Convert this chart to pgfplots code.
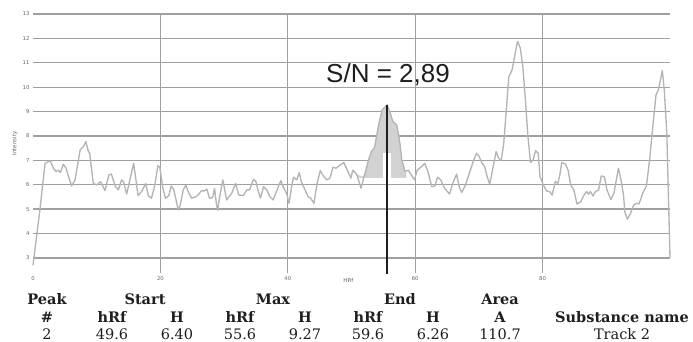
\documentclass[border=0pt]{standalone}
\usepackage{pgfplots}
\pgfplotsset{compat=1.18}
\usepackage{fontspec}
\setmainfont{DejaVu Serif}
\newfontfamily\ticksans{DejaVu Sans}
\newfontfamily\arial{Liberation Sans}
\definecolor{gridc}{RGB}{160,160,160}
\definecolor{curvec}{RGB}{180,180,180}
\definecolor{shadec}{RGB}{210,210,210}
\definecolor{tickc}{RGB}{100,100,100}
\definecolor{darkt}{RGB}{30,30,30}
\begin{document}
\begin{tikzpicture}
\begin{axis}[
  at={(33pt,-272.6pt)}, anchor=south west,
  scale only axis, width=637pt, height=258.6pt,
  xmin=0, xmax=100, ymin=2.4, ymax=13,
  axis line style={draw=none},
  xtick={20,40,60,80}, extra x ticks={0}, extra x tick style={grid=none},
  ytick={3,4,...,13},
  xmajorgrids, ymajorgrids,
  major grid style={gridc, line width=1.35pt},
  major tick length=0pt,
  tick label style={font=\ticksans\fontsize{5.3}{6}\selectfont, text=tickc},
  /pgf/number format/assume math mode=true,
  xlabel={HRf}, ylabel={Intensity},
  xlabel style={at={(axis description cs:0.495,0)}, anchor=north, inner sep=0pt, yshift=-5.5pt, font=\ticksans\fontsize{5.5}{6}\selectfont, text=tickc},
  ylabel style={at={(axis description cs:-0.0283,0.5)}, anchor=center, inner sep=0pt, font=\ticksans\fontsize{5.5}{6}\selectfont, text=tickc},
  clip=false,
]
% shaded peak area
\addplot[draw=none, fill=shadec, forget plot] coordinates {
(51.0,6.28) (51.0,6.42) (51.5,6.36) (52.0,6.36) (52.6,6.95) (53.1,7.36) (53.6,7.5)
(54.2,8.38) (54.8,9.07) (55.3,9.2) (55.6,9.27) (56.0,9.0) (56.5,8.59) (57.1,8.45)
(57.6,7.7) (57.9,7.02) (58.4,6.54) (58.6,6.5) (58.6,6.28)
};
% densitogram
\addplot[curvec, line width=1.35pt, line join=round] coordinates {
(0,2.7) (1.1,5.0) (1.6,6.2) (1.9,6.88) (2.7,6.99) (3.2,6.68) (3.6,6.54) (4.0,6.6)
(4.3,6.5) (4.75,6.84) (5.2,6.68) (5.5,6.4) (6.07,5.95) (6.6,6.2) (7.4,7.43) (7.9,7.56)
(8.3,7.77) (8.7,7.36) (8.9,7.29) (9.46,6.06) (10.0,5.99) (10.6,6.13) (11.3,5.76)
(11.9,6.4) (12.3,6.44) (12.9,5.95) (13.4,5.79) (13.9,6.2) (14.2,6.13) (14.7,5.62)
(15.8,6.88) (16.5,5.55) (17.1,5.75) (17.7,6.05) (18.1,5.55) (18.6,5.45) (19.1,5.95)
(19.6,6.78) (19.9,6.72) (20.4,5.85) (20.8,5.45) (21.3,5.55) (21.7,5.95) (22.1,5.8)
(22.4,5.45) (22.8,4.97) (23.1,5.15) (23.6,5.8) (24.0,5.98) (24.4,5.7) (24.9,5.45)
(25.5,5.5) (26.0,5.6) (26.4,5.75) (26.9,5.75) (27.3,5.82) (27.7,5.45) (28.2,5.48)
(28.5,5.85) (28.8,5.2) (29.0,4.95) (29.3,5.51) (29.8,6.2) (30.4,5.38) (31.2,5.65)
(31.8,6.06) (32.3,5.58) (33.0,5.56) (33.6,5.79) (34.0,5.79) (34.6,6.23) (35.0,6.13)
(35.3,5.79) (35.7,5.45) (36.2,5.92) (36.7,5.79) (37.2,5.51) (37.7,5.38) (38.2,5.72)
(38.9,6.17) (39.3,5.9) (39.8,5.65) (40.2,5.24) (40.6,5.92) (40.9,6.31) (41.4,6.2)
(41.8,6.5) (42.1,6.13) (42.7,5.79) (43.2,5.51) (43.6,5.45) (44.1,5.24) (44.6,6.06)
(45.1,6.58) (45.5,6.4) (46.1,6.2) (46.6,6.27) (47.1,6.72) (47.6,6.68) (48.2,6.81)
(48.8,6.91) (49.2,6.68) (49.6,6.45) (49.9,6.27) (50.2,6.6) (50.8,6.44) (51.5,5.86)
(52.0,6.36) (52.6,6.95) (53.1,7.36) (53.6,7.5) (54.2,8.38) (54.8,9.07) (55.3,9.2)
(55.6,9.27) (56.0,9.0) (56.5,8.59) (57.1,8.45) (57.6,7.7) (57.9,7.02) (58.4,6.54)
(58.9,6.6) (59.4,6.4) (59.9,6.2) (60.3,6.6) (60.9,6.72) (61.5,6.88) (62.0,6.54)
(62.6,5.92) (63.1,5.95) (63.5,6.31) (64.0,6.2) (64.6,5.86) (65.4,5.62) (65.9,6.06)
(66.5,6.44) (66.9,5.92) (67.3,5.68) (67.9,6.0) (68.5,6.47) (69.1,6.95) (69.6,7.29)
(70.0,7.18) (70.5,6.88) (70.9,6.74) (71.3,6.33) (71.7,6.03) (72.2,6.68) (72.7,7.36)
(73.1,7.09) (73.5,6.99) (73.9,7.7) (74.3,9.07) (74.7,10.43) (75.2,10.7) (75.6,11.25)
(76.0,11.8) (76.1,11.87) (76.5,11.6) (76.9,10.84) (77.3,9.48) (77.7,7.97) (78.1,6.91)
(78.5,7.02) (78.9,7.4) (79.3,7.29) (79.6,6.33) (80.0,6.06) (80.6,5.75) (81.1,5.72)
(81.5,5.58) (82.0,6.13) (82.4,6.06) (82.7,6.4) (83.0,6.91) (83.6,6.85) (84.0,6.6)
(84.4,5.99) (84.9,5.79) (85.4,5.21) (86.0,5.31) (86.5,5.58) (86.9,5.72) (87.2,5.62)
(87.5,5.72) (87.9,5.54) (88.3,5.72) (88.8,5.79) (89.2,6.36) (89.7,6.33) (90.1,5.79)
(90.7,5.4) (91.2,5.65) (91.9,6.68) (92.3,6.2) (92.7,5.58) (92.9,4.9) (93.3,4.59)
(93.8,4.83) (94.3,5.17) (94.7,5.24) (95.1,5.21) (95.4,5.4) (95.7,5.65) (96.3,5.95)
(96.8,7.02) (97.3,8.38) (97.8,9.68) (98.2,9.91) (98.5,10.3) (98.8,10.68) (99.1,9.89)
(99.5,8.11) (99.7,6.06) (100,3.0)
};
% gap and peak marker
\addplot[white, line width=8pt, forget plot] coordinates {(55.6,6.28) (55.6,7.3)};
\addplot[darkt, line width=1.5pt, forget plot] coordinates {(55.6,9.27) (55.6,2.35)};
\end{axis}
\node[font=\arial\fontsize{26}{30}\selectfont, text=darkt, anchor=base] at (388pt,-83pt) {S/N = 2,89};
% table
\begin{scope}[every node/.style={anchor=base, inner sep=0pt, text=darkt, font=\fontsize{14.5}{16}\selectfont}]
\node[font=\fontsize{14.5}{16}\selectfont\bfseries] at (47pt,-304.5pt) {Peak};
\node[font=\fontsize{14.5}{16}\selectfont\bfseries] at (145pt,-304.5pt) {Start};
\node[font=\fontsize{14.5}{16}\selectfont\bfseries] at (273pt,-304.5pt) {Max};
\node[font=\fontsize{14.5}{16}\selectfont\bfseries] at (400pt,-304.5pt) {End};
\node[font=\fontsize{14.5}{16}\selectfont\bfseries] at (500pt,-304.5pt) {Area};
\node[font=\fontsize{14.5}{16}\selectfont\bfseries] at (47pt,-322.5pt) {\#};
\node[font=\fontsize{14.5}{16}\selectfont\bfseries] at (112pt,-322.5pt) {hRf};
\node[font=\fontsize{14.5}{16}\selectfont\bfseries] at (177pt,-322.5pt) {H};
\node[font=\fontsize{14.5}{16}\selectfont\bfseries] at (240pt,-322.5pt) {hRf};
\node[font=\fontsize{14.5}{16}\selectfont\bfseries] at (305pt,-322.5pt) {H};
\node[font=\fontsize{14.5}{16}\selectfont\bfseries] at (368pt,-322.5pt) {hRf};
\node[font=\fontsize{14.5}{16}\selectfont\bfseries] at (433pt,-322.5pt) {H};
\node[font=\fontsize{14.5}{16}\selectfont\bfseries] at (500pt,-322.5pt) {A};
\node[font=\fontsize{14.5}{16}\selectfont\bfseries] at (622pt,-322.5pt) {Substance name};
\node at (47pt,-339.8pt) {2};
\node at (112pt,-339.8pt) {49.6};
\node at (177pt,-339.8pt) {6.40};
\node at (240pt,-339.8pt) {55.6};
\node at (305pt,-339.8pt) {9.27};
\node at (368pt,-339.8pt) {59.6};
\node at (433pt,-339.8pt) {6.26};
\node at (500pt,-339.8pt) {110.7};
\node at (622pt,-339.8pt) {Track 2};
\end{scope}
\pgfresetboundingbox
\useasboundingbox (0pt,0pt) rectangle (693pt,-342pt);
\end{tikzpicture}
\end{document}
